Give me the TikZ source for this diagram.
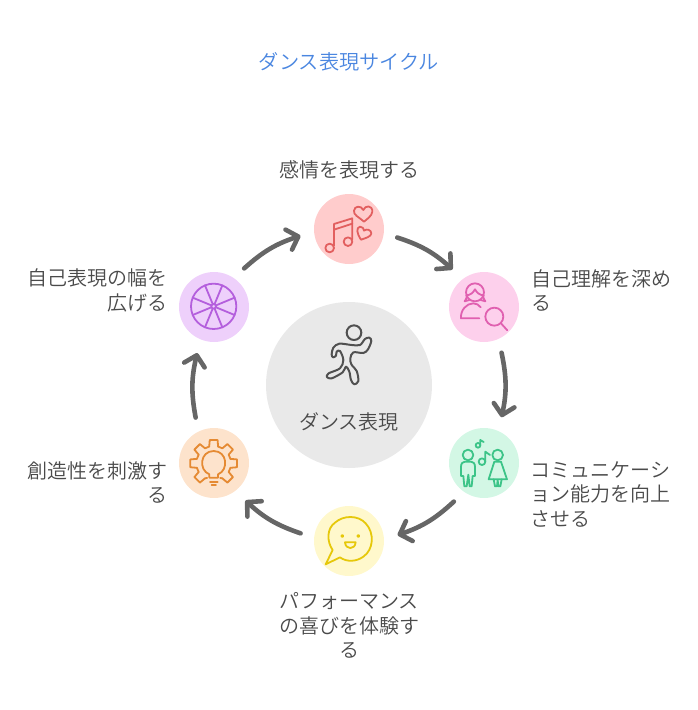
\documentclass[tikz,border=0pt]{standalone}
\usepackage{fontspec}
\setmainfont{Noto Sans CJK JP DemiLight}
\usetikzlibrary{arrows.meta}
\normallineskiplimit=-100pt
\lineskiplimit=-100pt
\definecolor{labelgray}{HTML}{4A4A4A}
\definecolor{titleblue}{HTML}{4A86E0}
\definecolor{arrowgray}{HTML}{666666}
\definecolor{hubgray}{HTML}{E9E9E9}
\definecolor{feelfill}{HTML}{FFCCCC}
\definecolor{knowfill}{HTML}{FDD0EC}
\definecolor{talkfill}{HTML}{D3F7E5}
\definecolor{joyfill}{HTML}{FFF8CC}
\definecolor{makefill}{HTML}{FDE3CC}
\definecolor{widefill}{HTML}{EED0FB}
\definecolor{feelink}{HTML}{E25F5F}
\definecolor{knowink}{HTML}{E060B0}
\definecolor{talkink}{HTML}{3CC488}
\definecolor{joyink}{HTML}{E6C80A}
\definecolor{makeink}{HTML}{E58A33}
\definecolor{wideink}{HTML}{B45FDD}
\definecolor{runnerink}{HTML}{505050}
\tikzset{
  stagedisc/.style={circle,minimum size=70pt,inner sep=0pt,outer sep=14pt,fill=#1},
  label text/.style={text=labelgray,font=\fontsize{20}{24.2}\selectfont,inner sep=0pt},
  cycle arrow/.style={draw=arrowgray,line width=4.6pt,line cap=round,
    -{Straight Barb[length=10pt,width=21pt,round]}},
  icon/.style 2 args={shift={(#1,#2)},x=0.3333pt,y=-0.3333pt},
  iconline/.style={draw=#1,line width=1.8pt,line join=round,line cap=round},
}
\begin{document}
\begin{tikzpicture}[x=1pt,y=-1pt]
\useasboundingbox (0,0) rectangle (698,710);

\node[text=titleblue,font=\fontsize{20.2}{24}\selectfont,inner sep=0pt] (title) at (349,62) {ダンス表現サイクル};

% hub
\node[circle,minimum size=166pt,inner sep=0pt,fill=hubgray] (hub) at (349,385) {};
\node[label text] (hubtext) at (349,422) {ダンス表現};

% ring of stages
\node[stagedisc=feelfill] (feel) at (349,229) {};
\node[stagedisc=knowfill] (know) at (484,307) {};
\node[stagedisc=talkfill] (talk) at (484,463) {};
\node[stagedisc=joyfill] (joy) at (349,541) {};
\node[stagedisc=makefill] (make) at (214,463) {};
\node[stagedisc=widefill] (wide) at (214,307) {};

% clockwise connectors
\draw[cycle arrow] (feel.-10)  to[bend left=12] (know.130);
\draw[cycle arrow] (know.-69)  to[bend left=12] (talk.69);
\draw[cycle arrow] (talk.-128) to[bend left=12] (joy.7);
\draw[cycle arrow] (joy.171)   to[bend left=12] (make.-50);
\draw[cycle arrow] (make.112)  to[bend left=12] (wide.-110);
\draw[cycle arrow] (wide.52)   to[bend left=12] (feel.188);

% stage captions
\node[label text] (feeltext) at (349,170) {感情を表現する};
\node[label text,anchor=west,align=left] (knowtext) at (531.5,290.5) {自己理解を深め\\る};
\node[label text,anchor=west,align=left] (talktext) at (530.5,494.5) {コミュニケーシ\\ョン能力を向上\\させる};
\node[label text,anchor=center,align=center] (joytext) at (349,625.5) {パフォーマンス\\の喜びを体験す\\る};
\node[label text,anchor=east,align=right] (maketext) at (167.5,482.5) {創造性を刺激す\\る};
\node[label text,anchor=east,align=right] (widetext) at (167.5,290.5) {自己表現の幅を\\広げる};

% music note and hearts
\begin{scope}[icon={300}{180}]
  \tikzset{every path/.style={iconline=feelink}}
  \path (89,204) circle[radius=13];
  \path (144,185) circle[radius=13];
  \path (102,197) -- (102,132) -- (157,115) -- (157,178);
  \path (102,149) -- (157,131);
  \path (192,125) .. controls (175,110) and (160,105) .. (162,92)
     .. controls (163,78) and (183,75) .. (190,90)
     .. controls (195,75) and (218,75) .. (217,95)
     .. controls (216,108) and (200,118) .. (192,125);
  \path (183,179) .. controls (170,160) and (168,143) .. (180,140)
     .. controls (188,138) and (192,148) .. (192,152)
     .. controls (200,145) and (214,150) .. (214,160)
     .. controls (214,170) and (195,175) .. (183,179);
\end{scope}

% person with a magnifier
\begin{scope}[icon={435}{260}]
  \tikzset{every path/.style={iconline=knowink}}
  \path (120,97) circle[radius=27];
  \path (94,106) .. controls (105,106) and (115,98) .. (120,88)
     .. controls (125,98) and (135,106) .. (146,106);
  \path (96,104) .. controls (96,112) and (93,118) .. (89,124) -- (103,120);
  \path (144,104) .. controls (144,112) and (147,118) .. (151,124) -- (137,120);
  \path (133,175) -- (78,175) .. controls (76,150) and (95,130) .. (115,130)
     .. controls (125,130) and (132,135) .. (137,142);
  \path (178,170) circle[radius=27];
  \path (198,190) -- (217,211);
\end{scope}

% two people singing
\begin{scope}[icon={435}{420}]
  \tikzset{every path/.style={iconline=talkink}}
  \path (99,105) circle[radius=16];
  \path (88,199) -- (85,168) -- (78,168) -- (78,140)
     .. controls (78,130) and (84,125) .. (90,125) -- (108,125)
     .. controls (114,125) and (120,130) .. (120,140) -- (120,168) -- (113,168) -- (110,199) -- (104,199) -- (100,164) -- (95,199) -- cycle;
  \path (188,105) circle[radius=16];
  \path (178,125) -- (198,125) -- (216,178) -- (161,178) -- cycle;
  \path (176,178) -- (180,199) -- (186,199) -- (188,180) -- (190,199) -- (196,199) -- (200,178);
  \path (129,76) circle[radius=7];
  \path (136,76) -- (136,60) -- (146,66);
  \path (141,125) circle[radius=10];
  \path (151,125) -- (151,95) -- (165,105);
\end{scope}

% smiling speech bubble
\begin{scope}[icon={300}{500}]
  \tikzset{every path/.style={iconline=joyink}}
  \path (98,150) .. controls (80,125) and (80,85) .. (105,68)
     .. controls (130,45) and (175,45) .. (197,70)
     .. controls (225,100) and (220,150) .. (190,170)
     .. controls (170,185) and (140,187) .. (120,172)
     -- (77,193) -- cycle;
  \path (135,127) -- (167,127) .. controls (165,150) and (137,150) .. (135,127) -- cycle;
  \path[fill=joyink] (127,108) circle[radius=3];
  \path[fill=joyink] (175,108) circle[radius=3];
\end{scope}

% gear around a light bulb
\begin{scope}[icon={170}{420}]
  \tikzset{every path/.style={iconline=makeink}}
  \begin{scope}[shift={(131,130)}]
    \foreach \a in {0,45,135,180,225,270,315} {
      \path (\a-15:52) -- (\a-9.5:71) -- (\a+9.5:71) -- (\a+15:52);
    }
    \foreach \a in {-30,15,150,195,240,285} {
      \path (\a:52) -- (\a+15:52);
    }
    \path (60:52) -- (66:48);
    \path (120:52) -- (114:48);
  \end{scope}
  \path (118,163) .. controls (85,150) and (90,93) .. (131,93)
     .. controls (172,93) and (177,150) .. (144,163) -- (144,173) -- (118,173) -- cycle;
  \path (120,185) -- (143,185);
  \path (125,196) -- (138,196);
\end{scope}

% spoked wheel
\begin{scope}[icon={170}{265}]
  \tikzset{every path/.style={iconline=wideink}}
  \path (131,124) circle[radius=68];
  \path (131,124) circle[radius=7];
  \begin{scope}[shift={(131,124)}]
    \foreach \a in {22.5,67.5,...,337.5} {
      \path (\a:7) -- (\a:68);
    }
  \end{scope}
\end{scope}

% running figure on the hub
\begin{scope}[icon={310}{315}]
  \tikzset{every path/.style={draw=runnerink,line width=2pt,line join=round}}
  \path (132,53) circle[radius=22];
  \path plot[smooth cycle,tension=0.55] coordinates {
    (65,118) (70,98) (88,86) (125,90) (150,90) (165,72) (178,68) (184,78)
    (174,103) (160,114) (130,112) (121,130) (124,148) (140,168) (145,198)
    (133,208) (123,195) (118,170) (108,155) (98,172) (65,190) (51,186) (56,175)
    (90,160) (100,135) (90,108) (80,110) (78,122) (69,127)
  };
\end{scope}
\end{tikzpicture}
\end{document}
